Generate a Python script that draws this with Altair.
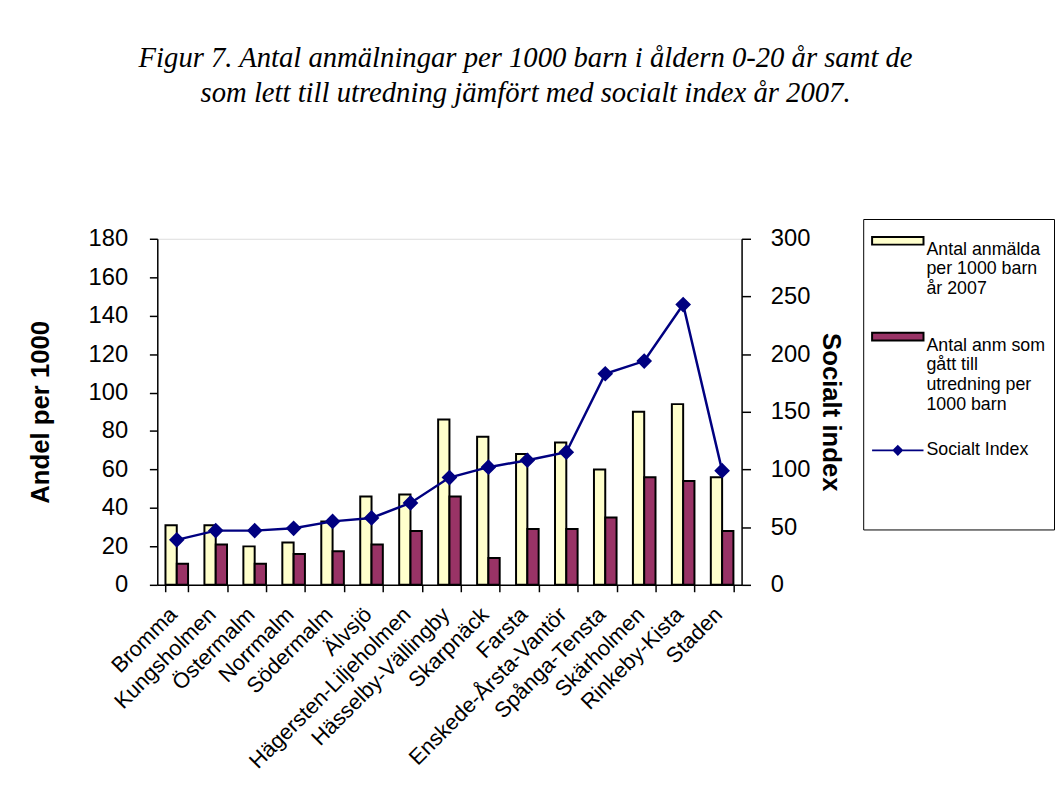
import altair as alt
import pandas as pd

districts = ["Bromma", "Kungsholmen", "Östermalm", "Norrmalm", "Södermalm", "Älvsjö",
             "Hägersten-Liljeholmen", "Hässelby-Vällingby", "Skarpnäck", "Farsta",
             "Enskede-Årsta-Vantör", "Spånga-Tensta", "Skärholmen", "Rinkeby-Kista", "Staden"]
anmalda = [31, 31, 20, 22, 33, 46, 47, 86, 77, 68, 74, 60, 90, 94, 56]
utredning = [11, 21, 11, 16, 17.5, 21, 28, 46, 14, 29, 29, 35, 56, 54, 28]
social_index = [39, 47, 47, 49, 55, 58, 71, 93, 102, 108, 115, 183, 194, 243, 99]

s1 = "Antal anmälda|per 1000  barn|år  2007"
s2 = "Antal anm som|gått till|utredning per|1000 barn"
s3 = "Socialt Index"
bar_colors = ["#FFFFCC", "#993366"]
line_color = "#000080"

title_lines = ["Figur 7. Antal anmälningar per 1000 barn i åldern 0-20 år samt de",
               "som lett till utredning jämfört med socialt index år 2007."]

bars_df = pd.DataFrame({
    "district": districts * 2,
    "series": [s1] * len(districts) + [s2] * len(districts),
    "value": anmalda + utredning,
})
line_df = pd.DataFrame({"district": districts, "series": s3, "si": social_index})

FONT = "Liberation Sans"

x_enc = alt.X(
    "district:N", sort=districts,
    scale=alt.Scale(paddingInner=0.42, paddingOuter=0.21),
    axis=alt.Axis(title=None, labelAngle=-45, labelFontSize=22, labelFont=FONT,
                  labelColor="black", labelLimit=400, tickBand="extent", tickSize=7,
                  tickColor="black", tickWidth=1.5, domainColor="black", domainWidth=1.5,
                  labelPadding=12, labelOffset=-11),
)

bars = alt.Chart(bars_df).mark_bar(stroke="black", strokeWidth=2).encode(
    x=x_enc,
    xOffset=alt.XOffset("series:N", sort=[s1, s2], scale=alt.Scale(paddingInner=0, paddingOuter=0)),
    y=alt.Y("value:Q", scale=alt.Scale(domain=[0, 180]),
            axis=alt.Axis(title="Andel per 1000", values=list(range(0, 181, 20)),
                          titleFont=FONT, titleFontSize=26, titleFontWeight="bold",
                          titleColor="black", titlePadding=35,
                          labelFont=FONT, labelFontSize=24, labelColor="black",
                          tickSize=8, tickColor="black", tickWidth=1.5,
                          domainColor="black", domainWidth=1.5, labelPadding=22, grid=False)),
    fill=alt.Fill(
        "series:N",
        scale=alt.Scale(domain=[s1, s2], range=bar_colors),
        legend=alt.Legend(
            title=" ", titleOrient="bottom", titlePadding=99, titleFontSize=10,
            orient="none", legendX=714, legendY=-20,
            strokeColor="black", padding=8,
            labelFont=FONT, labelFontSize=18, labelColor="black", labelLimit=400,
            labelExpr="split(datum.label, '|')", labelBaseline="top", labelOffset=15,
            symbolType="M-2,-0.3H2V0.3H-2Z", symbolSize=676, symbolOffset=13,
            symbolStrokeColor="black", symbolStrokeWidth=2, symbolOpacity=1,
            rowPadding=25,
        ),
    ),
)

line = alt.Chart(line_df).mark_line(
    strokeWidth=2.5,
    point=alt.OverlayMarkDef(shape="diamond", size=170, filled=True, color=line_color, opacity=1),
).encode(
    x=x_enc,
    y=alt.Y("si:Q", scale=alt.Scale(domain=[0, 300]),
            axis=alt.Axis(title="Socialt index", orient="right", values=list(range(0, 301, 50)),
                          titleFont=FONT, titleFontSize=26, titleFontWeight="bold",
                          titleColor="black", titlePadding=8,
                          labelFont=FONT, labelFontSize=24, labelColor="black",
                          tickSize=9, tickColor="black", tickWidth=1.5,
                          domainColor="black", domainWidth=1.5, labelPadding=20, grid=False)),
    stroke=alt.Stroke(
        "series:N",
        scale=alt.Scale(domain=[s3], range=[line_color]),
        legend=alt.Legend(
            title=None, orient="none", legendX=714, legendY=192, padding=8,
            labelFont=FONT, labelFontSize=18, labelColor="black", labelOffset=15,
            symbolType="M-2,0H2M0,-0.32L0.32,0L0,0.32L-0.32,0Z", symbolSize=676,
            symbolOffset=13, symbolFillColor=line_color, symbolStrokeWidth=2,
            symbolOpacity=1,
        ),
    ),
)

chart = alt.layer(bars, line).resolve_scale(y="independent").properties(
    width=591, height=350,
    title=alt.TitleParams(text=title_lines, font="Liberation Serif", fontStyle="italic",
                          fontWeight="normal", fontSize=29, lineHeight=35, color="black",
                          anchor="middle", dx=77, offset=112),
    padding={"left": 19, "top": 32, "right": 0, "bottom": 5},
).configure_view(stroke="#a0a0a0", strokeWidth=1.5).configure(background="white")

chart.save("out.html", embed_options={"renderer": "svg", "actions": False})
